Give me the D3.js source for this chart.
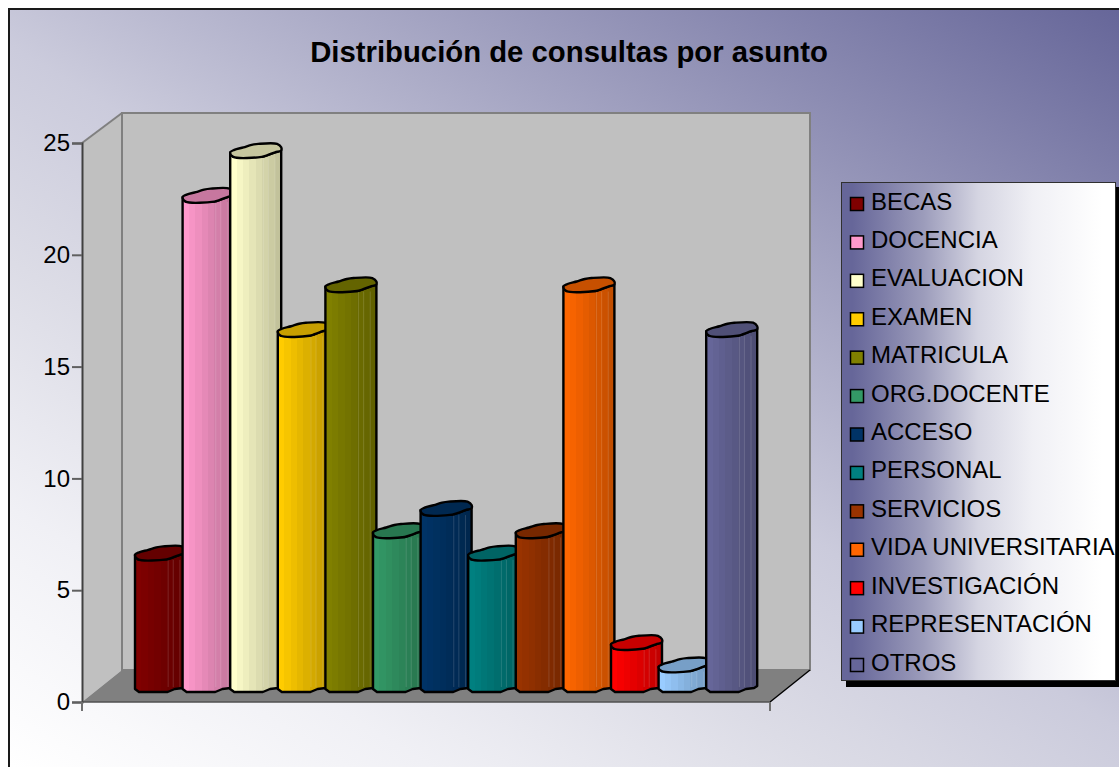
<!DOCTYPE html>
<html>
<head>
<meta charset="utf-8">
<script src="https://cdnjs.cloudflare.com/ajax/libs/d3/7.8.5/d3.min.js"></script>
<style>
  html, body { margin: 0; padding: 0; background: #fff; overflow: hidden; }
  svg { display: block; }
  text { font-family: "Liberation Sans", Arial, sans-serif; fill: #000; }
</style>
</head>
<body>
<div id="chart"></div>
<script>
const categories = ["BECAS", "DOCENCIA", "EVALUACION", "EXAMEN", "MATRICULA", "ORG.DOCENTE", "ACCESO",
  "PERSONAL", "SERVICIOS", "VIDA UNIVERSITARIA", "INVESTIGACIÓN", "REPRESENTACIÓN", "OTROS"];
const values = [6, 22, 24, 16, 18, 7, 8, 6, 7, 18, 2, 1, 16];
const colors = ["#800000", "#FF99CC", "#FFFFCC", "#FFCC00", "#808000", "#339966", "#003366",
  "#008080", "#993300", "#FF6600", "#FF0000", "#99CCFF", "#666699"];
const yTicks = [0, 5, 10, 15, 20, 25];

const width = 1119, height = 767;
const depth = { x: 40, y: 32 };
const barLift = 10;

const svg = d3.select("#chart").append("svg")
  .attr("width", width)
  .attr("height", height);

const defs = svg.append("defs");

// background
const bg = defs.append("linearGradient").attr("id", "bg")
  .attr("gradientUnits", "userSpaceOnUse")
  .attr("x1", 1119).attr("y1", 8).attr("x2", 474).attr("y2", 1053);
bg.append("stop").attr("offset", 0).attr("stop-color", "#666699");
bg.append("stop").attr("offset", 0.5).attr("stop-color", "#cbcbdc");
bg.append("stop").attr("offset", 0.65).attr("stop-color", "#dcdce6");
bg.append("stop").attr("offset", 0.82).attr("stop-color", "#f0f0f5");
bg.append("stop").attr("offset", 1).attr("stop-color", "#ffffff");

svg.append("rect")
  .attr("x", 9).attr("y", 9)
  .attr("width", width + 20).attr("height", height + 20)
  .attr("fill", "url(#bg)")
  .attr("stroke", "#1a1a1a").attr("stroke-width", 2);

svg.append("text")
  .attr("x", 569).attr("y", 62)
  .attr("text-anchor", "middle")
  .attr("font-size", 29.3)
  .attr("font-weight", "bold")
  .text("Distribución de consultas por asunto");

// scales
const y = d3.scaleLinear().domain([0, 25]).range([702, 143]);
const x = d3.scaleBand().domain(categories).range([135, 753.8]);
const barW = x.bandwidth() + 3.4;

const frontL = 82, frontR = 770;
const top0 = y(25), bot0 = y(0);

const line = d3.line();
const roundLine = d3.line().curve(d3.curveCatmullRomClosed.alpha(0.5));

// walls and floor
svg.append("path")
  .attr("d", line([[frontL, bot0], [frontL, top0], [frontL + depth.x, top0 - 30], [frontL + depth.x, bot0 - depth.y]]) + "Z")
  .attr("fill", "#c0c0c0");
svg.append("rect")
  .attr("x", frontL + depth.x).attr("y", top0 - 30)
  .attr("width", frontR - frontL).attr("height", bot0 - depth.y - top0 + 30)
  .attr("fill", "#c0c0c0").attr("stroke", "#808080").attr("stroke-width", 2);
svg.append("path")
  .attr("d", line([[frontL, top0], [frontL + depth.x, top0 - 30]]))
  .attr("fill", "none").attr("stroke", "#808080").attr("stroke-width", 2);
svg.append("path")
  .attr("d", line([[frontL, bot0], [frontL + depth.x, bot0 - depth.y], [frontR + depth.x, bot0 - depth.y], [frontR, bot0]]) + "Z")
  .attr("fill", "#808080");
svg.append("path")
  .attr("d", line([[frontR, bot0], [frontR + depth.x, bot0 - depth.y]]))
  .attr("fill", "none").attr("stroke", "#000").attr("stroke-width", 1.5);

// axes
const yAxis = d3.axisLeft(y).tickValues(yTicks).tickSize(10).tickPadding(2);
const gy = svg.append("g").attr("transform", `translate(${frontL},0)`).call(yAxis);
gy.select(".domain").attr("stroke", "#404040").attr("stroke-width", 2);
gy.selectAll(".tick line").attr("stroke", "#606060").attr("stroke-width", 2);
gy.selectAll(".tick text").attr("font-size", 24).attr("font-family", "Liberation Sans").attr("fill", "#000");

svg.append("path")
  .attr("d", line([[frontL, bot0], [frontR, bot0]]))
  .attr("fill", "none").attr("stroke", "#505050").attr("stroke-width", 1.5);
[frontL, frontR].forEach(px => {
  svg.append("path")
    .attr("d", line([[px, bot0], [px, bot0 + 9]]))
    .attr("fill", "none").attr("stroke", "#707070").attr("stroke-width", 2);
});

// bars, left to right so each one covers the previous
function shade(c, k) {
  const rgb = d3.rgb(c);
  return d3.rgb(rgb.r * k, rgb.g * k, rgb.b * k).formatHex();
}

const bandCount = 8;
categories.forEach((cat, i) => {
  const g = defs.append("linearGradient").attr("id", "bar" + i);
  d3.range(bandCount).forEach(b => {
    const k = 1 - 0.24 * b / (bandCount - 1);
    g.append("stop").attr("offset", b / bandCount).attr("stop-color", shade(colors[i], k));
    g.append("stop").attr("offset", (b + 1) / bandCount).attr("stop-color", shade(colors[i], k));
  });
});

const bars = svg.selectAll("g.bar")
  .data(categories.map((c, i) => ({ cat: c, value: values[i], color: colors[i], i })))
  .enter()
  .append("g")
  .attr("class", "bar")
  .attr("transform", d => `translate(${x(d.cat)},0)`);

const frontTop = (t, w) => [[0, t - 3], [3, t + 1.5], [w * 0.62, t + 1.5], [w * 0.72, t], [w * 0.88, t - 3], [w, t - 5]];
const backTop = (t, w) => [[w, t - 8], [w * 0.92, t - 11.5], [w * 0.55, t - 11.5], [w * 0.42, t - 10.5], [w * 0.26, t - 8], [w * 0.08, t - 5.5]];

const bottomY = bot0 - barLift;

bars.append("path")
  .attr("d", d => {
    const t = y(d.value) - barLift;
    const low = [[barW, bottomY - 6], [barW * 0.94, bottomY - 4], [barW * 0.78, bottomY - 3], [barW * 0.64, bottomY], [4, bottomY], [0, bottomY - 3]];
    return line(low.concat(frontTop(t, barW))) + "Z";
  })
  .attr("fill", d => `url(#bar${d.i})`)
  .attr("stroke", "#000").attr("stroke-width", 2.4).attr("stroke-linejoin", "round");

// faint seams on the shaded side
[0.65, 0.75, 0.88].forEach(f => {
  bars.append("path")
    .attr("d", d => line([[barW * f, y(d.value) - barLift + 2], [barW * f, bottomY - 5]]))
    .attr("stroke", "#fff").attr("stroke-opacity", 0.14).attr("stroke-width", 1);
});

bars.append("path")
  .attr("d", d => {
    const t = y(d.value) - barLift;
    return roundLine(frontTop(t, barW).concat(backTop(t, barW)));
  })
  .attr("fill", d => shade(d.color, 0.78))
  .attr("stroke", "#000").attr("stroke-width", 2.4).attr("stroke-linejoin", "round");

// legend
const lg = defs.append("linearGradient").attr("id", "legendFill");
lg.append("stop").attr("offset", 0.04).attr("stop-color", "#666699");
lg.append("stop").attr("offset", 0.3).attr("stop-color", "#9c9cbb");
lg.append("stop").attr("offset", 0.5).attr("stop-color", "#d5d5e2");
lg.append("stop").attr("offset", 0.7).attr("stop-color", "#f0f0f5");
lg.append("stop").attr("offset", 0.95).attr("stop-color", "#ffffff");

svg.append("rect")
  .attr("x", 846).attr("y", 187).attr("width", 280).attr("height", 500)
  .attr("fill", "#000");
svg.append("rect")
  .attr("x", 841.5).attr("y", 182.5).attr("width", 274).attr("height", 498)
  .attr("fill", "url(#legendFill)")
  .attr("stroke", "#303030").attr("stroke-width", 1);

const rowY = d3.scalePoint().domain(categories).range([204, 665]);

const rows = svg.selectAll("g.row")
  .data(categories.map((c, i) => ({ cat: c, color: colors[i] })))
  .enter()
  .append("g")
  .attr("class", "row")
  .attr("transform", d => `translate(0,${rowY(d.cat)})`);

rows.append("rect")
  .attr("x", 850.5).attr("y", -6.5).attr("width", 13).attr("height", 13)
  .attr("fill", d => d.color)
  .attr("stroke", "#000").attr("stroke-width", 1.5);

rows.append("text")
  .attr("x", 871).attr("y", 5.5)
  .attr("font-size", 24)
  .text(d => d.cat);
</script>
</body>
</html>
